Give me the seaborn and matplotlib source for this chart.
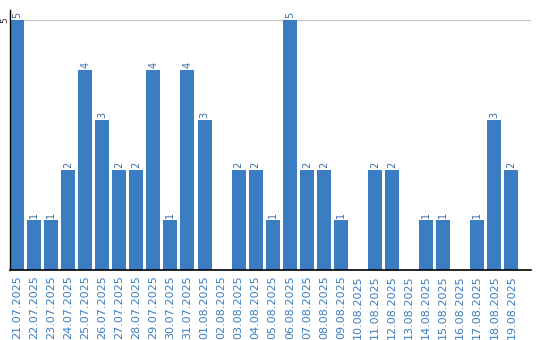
import matplotlib
matplotlib.use("Agg")
import matplotlib.pyplot as plt
import seaborn as sns
import pandas as pd

dates = ["21.07.2025", "22.07.2025", "23.07.2025", "24.07.2025", "25.07.2025",
         "26.07.2025", "27.07.2025", "28.07.2025", "29.07.2025", "30.07.2025",
         "31.07.2025", "01.08.2025", "02.08.2025", "03.08.2025", "04.08.2025",
         "05.08.2025", "06.08.2025", "07.08.2025", "08.08.2025", "09.08.2025",
         "10.08.2025", "11.08.2025", "12.08.2025", "13.08.2025", "14.08.2025",
         "15.08.2025", "16.08.2025", "17.08.2025", "18.08.2025", "19.08.2025"]
counts = [5, 1, 1, 2, 4, 3, 2, 2, 4, 1, 4, 3, 0, 2, 2, 1, 5, 2, 2, 1,
          0, 2, 2, 0, 1, 1, 0, 1, 3, 2]

df = pd.DataFrame({"date": dates, "count": counts})

sns.set_style("white")
fig = plt.figure(figsize=(5.4, 3.4), dpi=100)
ax = fig.add_axes([10/540, 70/340, 521/540, 260/340])

bar_color = "#3a7dc2"
sns.barplot(data=df, x="date", y="count", color=bar_color, width=0.82,
            saturation=1, linewidth=0, ax=ax, zorder=3)

for i, v in enumerate(counts):
    if v > 0:
        ax.text(i, v + 0.04, str(v), rotation=90, ha="center", va="bottom",
                fontsize=7, color="#3a6ea5", zorder=4)

ax.set_ylim(0, 5.2)
ax.set_xlim(-0.41, 30.15)
ax.set_yticks([5])
ax.set_yticklabels(["5"], rotation=90, va="center", ha="center", fontsize=6.5)
ax.yaxis.grid(True, color="#c8c8c8", linewidth=1, zorder=0)
ax.tick_params(axis="y", length=0, pad=4)
ax.tick_params(axis="x", length=0, pad=4)
ax.set_xticks(range(len(dates)))
ax.set_xticklabels(dates, rotation=90, fontsize=8, color="#3a7dc2")
ax.set_xlabel("")
ax.set_ylabel("")
for s in ["top", "right"]:
    ax.spines[s].set_visible(False)
for s in ["left", "bottom"]:
    ax.spines[s].set_color("black")
    ax.spines[s].set_zorder(6)
ax.spines["left"].set_linewidth(1)
ax.spines["bottom"].set_linewidth(1.2)

fig.savefig("out.png", dpi=100)
